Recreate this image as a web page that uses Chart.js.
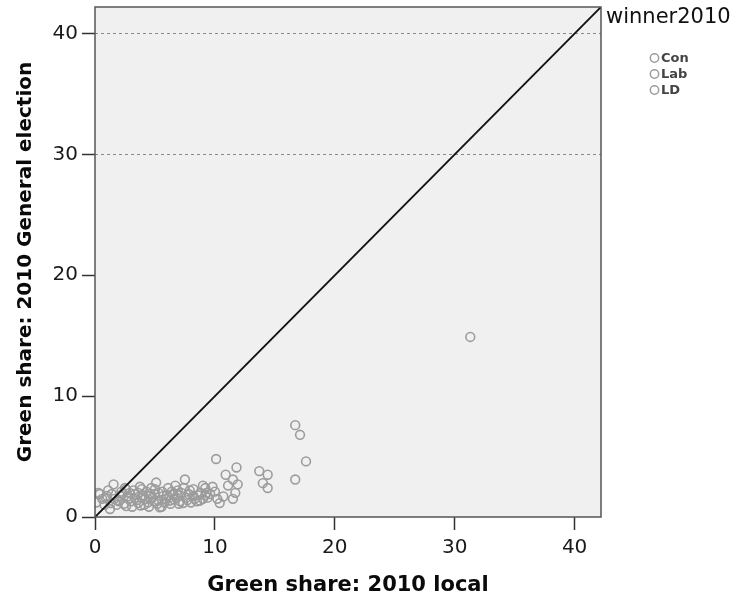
<!DOCTYPE html>
<html>
<head>
<meta charset="utf-8">
<script src="https://cdn.jsdelivr.net/npm/chart.js@4.4.1/dist/chart.umd.min.js"></script>
<style>
  html, body { margin: 0; padding: 0; background: #fff; }
</style>
</head>
<body>
<canvas id="scatterChart" width="740" height="599"></canvas>
<script>
const seriesNames = ['Con', 'Lab', 'LD'];

// [local share, general election share]
const conPoints = [
    [31.3, 14.9], [16.7, 7.6], [17.6, 4.6], [10.1, 4.8], [13.7, 3.8], [14.0, 2.8],
    [11.5, 3.1], [9.8, 2.5], [10.7, 1.7], [9.4, 1.6], [5.1, 2.85], [9.0, 2.6],
    [5.0, 1.9], [8.2, 1.75], [7.35, 1.15], [6.9, 2.2], [8.2, 2.3], [0.3, 2.0],
    [2.1, 1.75], [3.9, 2.3], [1.0, 1.75], [3.1, 0.85], [1.25, 0.66], [8.5, 1.3],
    [2.4, 1.1], [4.0, 1.8], [5.2, 1.1], [7.1, 1.3], [8.6, 1.8], [2.9, 2.0],
    [6.0, 1.8], [2.2, 2.1], [5.8, 1.2], [6.6, 1.45], [1.4, 1.9], [2.7, 1.7],
    [3.6, 2.0], [4.9, 1.3], [6.4, 2.1], [7.7, 1.4], [9.2, 1.8], [4.1, 1.0]
];
const labPoints = [
    [17.1, 6.8], [16.7, 3.1], [11.8, 4.1], [14.4, 3.5], [14.4, 2.4], [11.1, 2.6],
    [9.2, 2.4], [11.7, 2.0], [9.3, 2.0], [7.5, 3.1], [6.1, 2.4], [5.7, 1.75],
    [8.75, 1.35], [6.5, 1.9], [4.7, 2.4], [1.55, 2.7], [0.6, 1.5], [2.8, 1.5],
    [1.3, 1.15], [1.8, 1.0], [0.1, 1.2], [5.4, 0.8], [2.6, 2.3], [0.4, 1.9],
    [3.0, 1.3], [4.4, 1.2], [5.9, 1.5], [7.8, 1.9], [9.0, 1.5], [4.3, 2.1],
    [7.2, 2.0], [1.1, 2.2], [0.8, 1.0], [9.6, 1.9], [1.9, 1.4], [3.2, 2.2],
    [4.5, 1.7], [5.3, 2.0], [6.2, 1.6], [7.0, 1.1], [8.3, 1.5], [10.0, 2.1]
];
const ldPoints = [
    [10.9, 3.5], [11.9, 2.7], [11.5, 1.5], [10.4, 1.15], [7.4, 2.4], [6.7, 2.6],
    [7.6, 1.6], [5.55, 0.85], [6.25, 1.35], [5.3, 1.35], [2.5, 2.4], [3.35, 1.9],
    [3.6, 1.15], [4.2, 1.5], [4.5, 0.85], [3.75, 2.5], [2.0, 1.3], [3.3, 1.6],
    [4.8, 1.6], [6.3, 1.1], [6.8, 1.6], [8.0, 1.2], [1.6, 1.5], [5.6, 2.1],
    [3.5, 1.4], [4.6, 1.9], [3.8, 0.95], [10.2, 1.5], [0.9, 1.6], [2.3, 1.9],
    [3.9, 1.6], [5.0, 2.3], [6.9, 1.8], [7.9, 2.2], [8.8, 2.0], [2.6, 0.9]
];

const tickValues = [0, 10, 20, 30, 40];
const refLines = [30, 40];
const axisMax = 42.2;

const font = 'DejaVu Sans';
const pointGray = '#9c9c9c';

function toXY(list) {
    return list.map(p => ({ x: p[0], y: p[1] }));
}

function fixTicks(scale) {
    scale.ticks = tickValues.map(v => ({ value: v }));
}

// plot background, frame and the legend on the right
const framePlugin = {
    id: 'frame',
    beforeDraw(chart) {
        const { ctx, chartArea: a } = chart;
        ctx.save();
        ctx.fillStyle = '#f0f0f0';
        ctx.fillRect(a.left, a.top, a.right - a.left, a.bottom - a.top);
        ctx.restore();
    },
    afterDraw(chart) {
        const { ctx, chartArea: a } = chart;
        ctx.save();
        ctx.strokeStyle = '#555';
        ctx.lineWidth = 1.5;
        ctx.strokeRect(a.left, a.top, a.right - a.left, a.bottom - a.top);

        ctx.fillStyle = '#111';
        ctx.font = '21px "' + font + '"';
        ctx.textAlign = 'left';
        ctx.textBaseline = 'middle';
        ctx.fillText('winner2010', 606, 18);

        ctx.font = 'bold 13px "' + font + '"';
        seriesNames.forEach((name, i) => {
            const y = 58 + i * 16;
            ctx.beginPath();
            ctx.arc(654.5, y, 4.2, 0, Math.PI * 2);
            ctx.strokeStyle = pointGray;
            ctx.lineWidth = 1.5;
            ctx.stroke();
            ctx.fillStyle = '#444';
            ctx.fillText(name, 661, y + 1);
        });
        ctx.restore();
    }
};

const pointStyle = {
    pointRadius: 4.4,
    pointBorderWidth: 1.6,
    pointBorderColor: pointGray,
    pointBackgroundColor: 'rgba(0,0,0,0)',
    showLine: false,
    order: 1
};

new Chart(document.getElementById('scatterChart').getContext('2d'), {
    type: 'scatter',
    data: {
        datasets: [
            { label: seriesNames[0], data: toXY(conPoints), ...pointStyle },
            { label: seriesNames[1], data: toXY(labPoints), ...pointStyle },
            { label: seriesNames[2], data: toXY(ldPoints), ...pointStyle },
            {
                type: 'line',
                label: 'diagonal',
                data: [{ x: 0, y: 0 }, { x: axisMax, y: axisMax }],
                borderColor: '#111',
                borderWidth: 1.9,
                pointRadius: 0,
                order: 0
            }
        ]
    },
    options: {
        responsive: false,
        animation: false,
        devicePixelRatio: 1,
        layout: { padding: { left: 0, right: 139, top: 7, bottom: 0 } },
        plugins: {
            legend: { display: false },
            tooltip: { enabled: false }
        },
        scales: {
            x: {
                type: 'linear',
                min: 0,
                max: axisMax,
                afterBuildTicks: fixTicks,
                afterFit: scale => {
                    scale.height = 82;
                    scale.paddingLeft = 0;
                    scale.paddingRight = 0;
                },
                border: { display: false },
                grid: {
                    drawOnChartArea: false,
                    color: 'transparent',
                    tickColor: '#333',
                    tickLength: 13,
                    tickWidth: 1.5
                },
                ticks: {
                    padding: 6,
                    color: '#1a1a1a',
                    font: { family: font, size: 20 }
                },
                title: {
                    display: true,
                    text: 'Green share: 2010 local',
                    color: '#0a0a0a',
                    padding: { top: 0, bottom: 1 },
                    font: { family: font, size: 21, weight: 'bold' }
                }
            },
            y: {
                type: 'linear',
                min: 0,
                max: axisMax,
                afterBuildTicks: fixTicks,
                afterFit: scale => {
                    scale.width = 95;
                    scale.paddingTop = 0;
                    scale.paddingBottom = 0;
                },
                border: { display: false, dash: [3, 3] },
                grid: {
                    color: c => (c.tick && refLines.includes(c.tick.value)) ? '#8a8a8a' : 'transparent',
                    lineWidth: 1,
                    tickColor: '#333',
                    tickLength: 13,
                    tickWidth: 1.5,
                    tickBorderDash: []
                },
                ticks: {
                    padding: 4,
                    color: '#1a1a1a',
                    font: { family: font, size: 20 }
                },
                title: {
                    display: true,
                    text: 'Green share: 2010 General election',
                    color: '#0a0a0a',
                    padding: { top: 14, bottom: 0 },
                    font: { family: font, size: 20, weight: 'bold' }
                }
            }
        }
    },
    plugins: [framePlugin]
});
</script>
</body>
</html>
